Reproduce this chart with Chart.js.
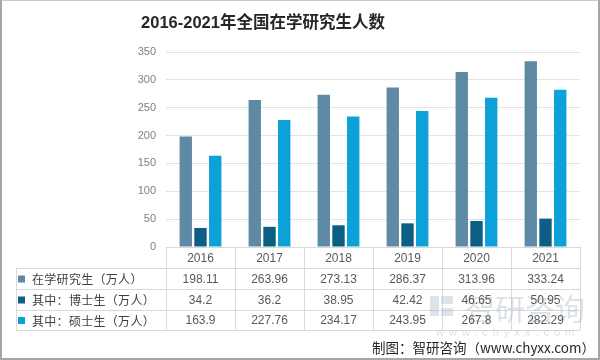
<!DOCTYPE html>
<html>
<head>
<meta charset="utf-8">
<script src="https://cdn.jsdelivr.net/npm/chart.js@4"></script>
<style>
html,body{margin:0;padding:0;background:#fff;}
#wrap{position:relative;width:600px;height:360px;box-sizing:border-box;border:2px solid #a6a6a6;border-top:1px solid #c8c8c8;}
canvas{position:absolute;left:-2px;top:-1px;}
</style>
</head>
<body>
<div id="wrap"><canvas id="c" width="600" height="360"></canvas></div>
<script>
const titleText = '2016-2021年全国在学研究生人数';
const years = ['2016', '2017', '2018', '2019', '2020', '2021'];
const seriesNames = ['在学研究生（万人）', '其中：博士生（万人）', '其中：硕士生（万人）'];
const totalStudents = [198.11, 263.96, 273.13, 286.37, 313.96, 333.24];
const doctoral = [34.2, 36.2, 38.95, 42.42, 46.65, 50.95];
const masters = [163.9, 227.76, 234.17, 243.95, 267.8, 282.29];
const tableLabels = ['198.11', '263.96', '273.13', '286.37', '313.96', '333.24'];
const tableLabels2 = ['34.2', '36.2', '38.95', '42.42', '46.65', '50.95'];
const tableLabels3 = ['163.9', '227.76', '234.17', '243.95', '267.8', '282.29'];
const footerText = '制图：智研咨询（www.chyxx.com）';

const colors = ['#5f8aa5', '#0d5e84', '#0da1d9'];
const rowsText = [tableLabels, tableLabels2, tableLabels3];

const tablePlugin = {
  id: 'tablePlugin',
  afterDraw(chart) {
    const ctx = chart.ctx;
    const ca = chart.chartArea;
    const L = ca.left, R = ca.right, B = ca.bottom;
    const tableLeft = 16;
    const rows = [B, B + 21, B + 42, B + 63, B + 83];
    const colW = (R - L) / years.length;
    ctx.save();
    // title
    ctx.fillStyle = '#262626';
    ctx.font = 'bold 16.5px "Liberation Sans", "Noto Sans CJK SC", sans-serif';
    ctx.textAlign = 'center';
    ctx.textBaseline = 'middle';
    ctx.fillText(titleText, 263, 23);

    // grid lines of table
    ctx.strokeStyle = '#d9d9d9';
    ctx.lineWidth = 1;
    ctx.beginPath();
    ctx.moveTo(L, Math.round(rows[0]) + 0.5); ctx.lineTo(R, Math.round(rows[0]) + 0.5);
    for (let i = 1; i < rows.length; i++) {
      const y = Math.round(rows[i]) + 0.5;
      ctx.moveTo(tableLeft, y); ctx.lineTo(R, y);
    }
    for (let i = 0; i <= years.length; i++) {
      const x = Math.round(L + i * colW) + 0.5;
      ctx.moveTo(x, rows[0]); ctx.lineTo(x, rows[4] + 0.5);
    }
    ctx.moveTo(tableLeft + 0.5, rows[1]); ctx.lineTo(tableLeft + 0.5, rows[4] + 0.5);
    ctx.stroke();

    // watermark
    ctx.fillStyle = 'rgba(175,190,205,0.45)';
    ctx.font = '30px "Noto Sans CJK SC", sans-serif';
    ctx.textAlign = 'left';
    ctx.fillText('智研咨询', 465, 309);
    ctx.font = '11px "Liberation Sans", sans-serif';
    ctx.letterSpacing = '5px';
    ctx.fillText('www.chyxx.com', 436, 333);
    ctx.letterSpacing = '0px';
    ctx.fillStyle = 'rgba(175,195,215,0.45)';
    ctx.fillRect(430, 296, 9, 20);
    ctx.fillRect(441, 296, 12, 8);
    ctx.fillRect(441, 308, 12, 8);

    // header years
    ctx.fillStyle = '#595959';
    ctx.font = '12px "Liberation Sans", sans-serif';
    ctx.textAlign = 'center';
    years.forEach((yr, i) => {
      ctx.fillText(yr, L + (i + 0.5) * colW, (rows[0] + rows[1]) / 2 + 1);
    });
    // rows
    for (let r = 0; r < 3; r++) {
      const cy = (rows[r + 1] + rows[r + 2]) / 2 + 1;
      ctx.fillStyle = colors[r];
      ctx.fillRect(18, cy - 4, 7, 7);
      ctx.fillStyle = '#404040';
      ctx.font = '12px "Noto Sans CJK SC", sans-serif';
      ctx.textAlign = 'left';
      ctx.letterSpacing = '0.3px';
      ctx.fillText(seriesNames[r], 32, cy);
      ctx.letterSpacing = '0px';
      ctx.fillStyle = '#595959';
      ctx.font = '12px "Liberation Sans", sans-serif';
      ctx.textAlign = 'center';
      rowsText[r].forEach((t, i) => {
        ctx.fillText(t, L + (i + 0.5) * colW, cy);
      });
    }
    // footer
    ctx.fillStyle = '#262626';
    ctx.font = '13.5px "Noto Sans CJK SC", sans-serif';
    ctx.textAlign = 'right';
    ctx.fillText(footerText, 595, 348);
    ctx.restore();
  }
};

new Chart(document.getElementById('c'), {
  type: 'bar',
  data: {
    labels: years,
    datasets: [
      { label: seriesNames[0], data: totalStudents, backgroundColor: colors[0] },
      { label: seriesNames[1], data: doctoral, backgroundColor: colors[1] },
      { label: seriesNames[2], data: masters, backgroundColor: colors[2] }
    ]
  },
  options: {
    responsive: false,
    animation: false,
    events: [],
    layout: { padding: { top: 52, right: 20, left: 0, bottom: 0 } },
    datasets: { bar: { categoryPercentage: 0.64, barPercentage: 0.84 } },
    plugins: { legend: { display: false }, tooltip: { enabled: false }, title: { display: false } },
    scales: {
      x: {
        grid: { display: false },
        border: { display: false },
        ticks: { display: false },
        afterFit(s) { s.height = 113; }
      },
      y: {
        min: 0, max: 350,
        ticks: { stepSize: 50, color: '#7f7f7f', padding: 10, font: { family: '"Liberation Sans", sans-serif', size: 11 } },
        grid: { color: '#e3e3e3', drawTicks: false },
        border: { display: false },
        afterFit(s) { s.width = 166; }
      }
    }
  },
  plugins: [tablePlugin]
});
</script>
</body>
</html>
